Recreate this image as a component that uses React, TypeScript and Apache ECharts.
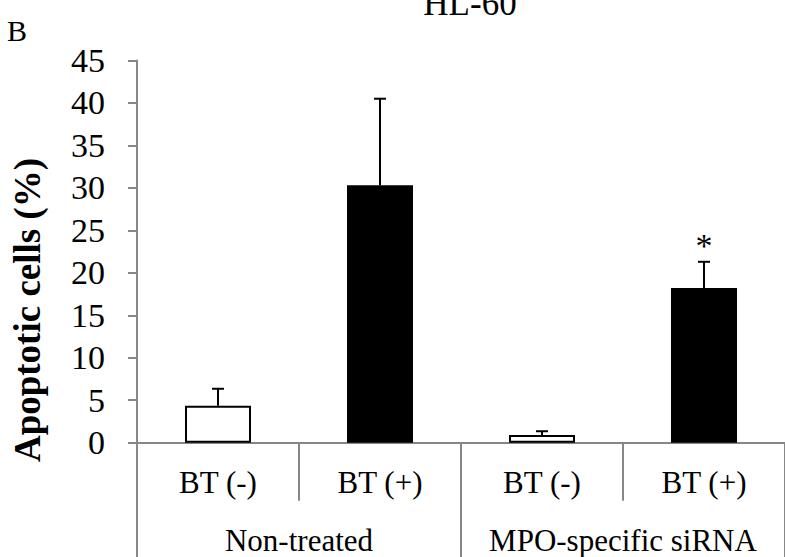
import React, { useEffect, useRef } from "react";
import * as echarts from "echarts";

const categories = ["BT (-)", "BT (+)", "BT (-)", "BT (+)"];
const groups = ["Non-treated", "MPO-specific siRNA"];
const values = [4.35, 30.3, 0.9, 18.2];
const errorTop = [6.35, 40.5, 1.35, 21.3];
const significance = ["", "", "", "*"];
const barColors = ["#ffffff", "#000000", "#ffffff", "#000000"];
const yTicks = { min: 0, max: 45, interval: 5 };

const FONT = "'Liberation Serif', 'Times New Roman', serif";
const AXIS_GRAY = "#878787";

export default function App() {
  const ref = useRef<HTMLDivElement>(null);
  useEffect(() => {
    if (!ref.current) return;
    const chart = echarts.init(ref.current, undefined, { renderer: "svg" });
    const option: any = {
      animation: false,
      backgroundColor: "#ffffff",
      grid: { left: 137, top: 60.5, width: 656, height: 382.2, containLabel: false },
      graphic: [
        {
          type: "text",
          x: 470,
          y: 3,
          style: { text: "HL-60", font: `35px ${FONT}`, fill: "#000", align: "center", verticalAlign: "middle" },
        },
        {
          type: "text",
          x: 7,
          y: 30,
          style: { text: "B", font: `30px ${FONT}`, fill: "#000", align: "left", verticalAlign: "middle" },
        },
        {
          type: "text",
          x: 27,
          y: 310,
          rotation: Math.PI / 2,
          style: {
            text: "Apoptotic cells (%)",
            font: `bold 37px ${FONT}`,
            fill: "#000",
            align: "center",
            verticalAlign: "middle",
          },
        },
      ],
      xAxis: [
        {
          type: "category",
          data: categories,
          position: "bottom",
          axisLine: { show: true, lineStyle: { color: AXIS_GRAY, width: 2 } },
          axisTick: { show: true, interval: 0, alignWithLabel: false, length: 58, lineStyle: { color: AXIS_GRAY, width: 2 } },
          axisLabel: { interval: 0, margin: 24, color: "#000", fontFamily: FONT, fontSize: 31 },
          splitLine: { show: false },
        },
        {
          type: "category",
          data: groups,
          position: "bottom",
          offset: 0,
          axisLine: { show: false },
          axisTick: { show: true, interval: 0, alignWithLabel: false, length: 130, lineStyle: { color: AXIS_GRAY, width: 2 } },
          axisLabel: { interval: 0, margin: 82, color: "#000", fontFamily: FONT, fontSize: 31 },
          splitLine: { show: false },
        },
      ],
      yAxis: {
        type: "value",
        min: yTicks.min,
        max: yTicks.max,
        interval: yTicks.interval,
        axisLine: { show: true, lineStyle: { color: AXIS_GRAY, width: 2 } },
        axisTick: { show: true, inside: false, length: 9, lineStyle: { color: AXIS_GRAY, width: 2 } },
        axisLabel: { margin: 32, color: "#000", fontFamily: FONT, fontSize: 34 },
        splitLine: { show: false },
      },
      series: [
        {
          type: "bar",
          xAxisIndex: 0,
          barWidth: 66,
          data: values.map((v, i) => ({
            value: v,
            itemStyle: { color: barColors[i], borderColor: "#000", borderWidth: 2 },
          })),
          z: 2,
        },
        {
          type: "custom",
          xAxisIndex: 0,
          z: 3,
          data: values.map((v, i) => [i, errorTop[i], v]),
          renderItem: (params: any, api: any) => {
            const idx = params.dataIndex;
            const x = api.value(0);
            const base = api.coord([x, api.value(2)]);
            const top = api.coord([x, api.value(1)]);
            const half = 6;
            const children: any[] = [
              {
                type: "line",
                shape: { x1: base[0], y1: base[1], x2: top[0], y2: top[1] },
                style: { stroke: "#000", lineWidth: 2 },
              },
              {
                type: "line",
                shape: { x1: top[0] - half, y1: top[1], x2: top[0] + half, y2: top[1] },
                style: { stroke: "#000", lineWidth: 2 },
              },
            ];
            if (significance[idx]) {
              children.push({
                type: "text",
                x: top[0],
                y: top[1] + 1,
                style: {
                  text: significance[idx],
                  font: `34px ${FONT}`,
                  fill: "#000",
                  align: "center",
                  verticalAlign: "bottom",
                },
              });
            }
            return { type: "group", children };
          },
        },
      ],
    };
    chart.setOption(option);
    return () => chart.dispose();
  }, []);
  return (
    <div
      ref={ref}
      style={{ position: "fixed", left: 0, top: 0, width: 785, height: 557, background: "#fff" }}
    />
  );
}
